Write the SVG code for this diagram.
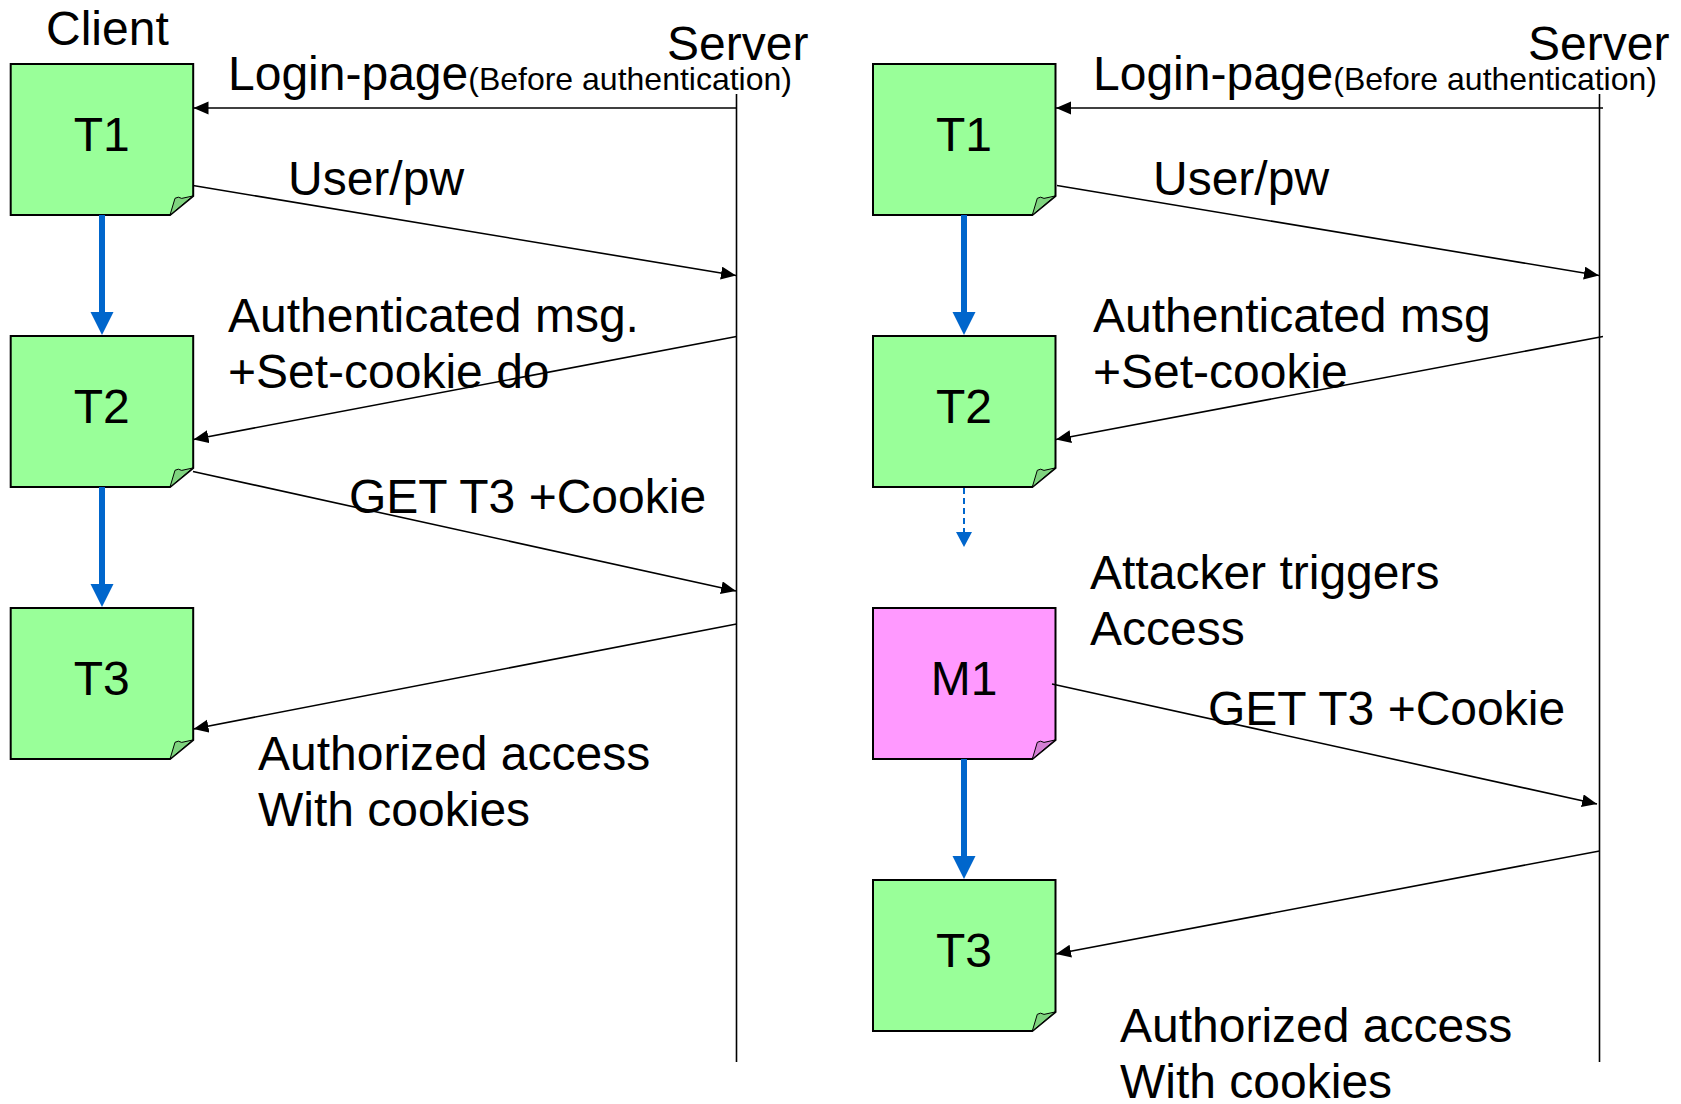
<svg xmlns="http://www.w3.org/2000/svg" width="1681" height="1104" viewBox="0 0 1681 1104">
  <style>
    text { font-family: "Liberation Sans", Arial, sans-serif; fill: #000; }
    .lbl { font-size: 48px; }
    .small { font-size: 32px; }
    .node-label { font-size: 48px; text-anchor: middle; }
    .page { stroke: #000; stroke-width: 2; stroke-linejoin: miter; }
    .green { fill: #99FF99; }
    .pink { fill: #FF99FF; }
    .fold { stroke: #000; stroke-width: 1; }
    .fold-green { fill: #7FD47F; }
    .fold-pink { fill: #D47FD4; }
    .msg { stroke: #000; stroke-width: 1.6; fill: none; marker-end: url(#arrow); }
    .life { stroke: #000; stroke-width: 1.6; }
    .flow { stroke: #0066CC; stroke-width: 6; }
    .flow-head { fill: #0066CC; }
    .flow-dash { stroke: #0066CC; stroke-width: 2; stroke-dasharray: 6 4; }
  </style>
  <defs>
    <marker id="arrow" markerUnits="userSpaceOnUse" markerWidth="16" markerHeight="14" refX="15" refY="6.5" orient="auto">
      <path d="M0,0 L15,6.5 L0,13 Z" fill="#000"/>
    </marker>
    <!-- sticky-note page with a folded bottom-right corner, 182 x 151 -->
    <path id="page-shape" d="M0,0 H182.5 V132 L159.3,151 H0 Z"/>
    <path id="page-fold" d="M159.3,151 L164.3,134.3 Q167.6,132 171,134.4 L182,132 Z"/>
  </defs>

  <!-- column headers -->
  <g id="headers">
    <text class="lbl" x="46" y="45">Client</text>
    <text class="lbl" x="667" y="60">Server</text>
    <text class="lbl" x="1528" y="60">Server</text>
  </g>

  <!-- server lifelines -->
  <g id="lifelines">
    <line class="life" x1="736.5" y1="94" x2="736.5" y2="1062"/>
    <line class="life" x1="1599.5" y1="94" x2="1599.5" y2="1062"/>
  </g>

  <!-- left sequence: legitimate client -->
  <g id="left-T1" transform="translate(10.7,64)">
    <use href="#page-shape" class="page green"/>
    <use href="#page-fold" class="fold fold-green"/>
    <text class="node-label" x="91" y="87">T1</text>
  </g>
  <g id="left-T2" transform="translate(10.7,336)">
    <use href="#page-shape" class="page green"/>
    <use href="#page-fold" class="fold fold-green"/>
    <text class="node-label" x="91" y="87">T2</text>
  </g>
  <g id="left-T3" transform="translate(10.7,608)">
    <use href="#page-shape" class="page green"/>
    <use href="#page-fold" class="fold fold-green"/>
    <text class="node-label" x="91" y="87">T3</text>
  </g>

  <!-- right sequence: attacker-triggered access -->
  <g id="right-T1" transform="translate(873,64)">
    <use href="#page-shape" class="page green"/>
    <use href="#page-fold" class="fold fold-green"/>
    <text class="node-label" x="91" y="87">T1</text>
  </g>
  <g id="right-T2" transform="translate(873,336)">
    <use href="#page-shape" class="page green"/>
    <use href="#page-fold" class="fold fold-green"/>
    <text class="node-label" x="91" y="87">T2</text>
  </g>
  <g id="right-M1" transform="translate(873,608)">
    <use href="#page-shape" class="page pink"/>
    <use href="#page-fold" class="fold fold-pink"/>
    <text class="node-label" x="91" y="87">M1</text>
  </g>
  <g id="right-T3" transform="translate(873,880)">
    <use href="#page-shape" class="page green"/>
    <use href="#page-fold" class="fold fold-green"/>
    <text class="node-label" x="91" y="87">T3</text>
  </g>

  <g id="connectors">
    <!-- page-to-page flow (blue) -->
    <line class="flow" x1="102" y1="215" x2="102" y2="313"/>
    <polygon class="flow-head" points="90.5,312 113.5,312 102,335"/>
    <line class="flow" x1="102" y1="487" x2="102" y2="585"/>
    <polygon class="flow-head" points="90.5,584 113.5,584 102,607"/>

    <line class="flow" x1="964" y1="215" x2="964" y2="313"/>
    <polygon class="flow-head" points="952.5,312 975.5,312 964,335"/>
    <line class="flow-dash" x1="964" y1="488" x2="964" y2="533"/>
    <polygon class="flow-head" points="956,532 972,532 964,547"/>
    <line class="flow" x1="964" y1="759" x2="964" y2="857"/>
    <polygon class="flow-head" points="952.5,856 975.5,856 964,879"/>

    <!-- messages, left -->
    <line class="msg" x1="736.5" y1="108" x2="193.5" y2="108"/>
    <line class="msg" x1="193" y1="185.5" x2="736" y2="275.5"/>
    <line class="msg" x1="736.5" y1="336.5" x2="193.5" y2="439.5"/>
    <line class="msg" x1="193" y1="471.5" x2="736" y2="591"/>
    <line class="msg" x1="736.5" y1="624" x2="193.5" y2="729"/>

    <!-- messages, right -->
    <line class="msg" x1="1603" y1="108" x2="1056" y2="108"/>
    <line class="msg" x1="1057" y1="185.5" x2="1599" y2="275.5"/>
    <line class="msg" x1="1603" y1="336.5" x2="1056" y2="439.5"/>
    <line class="msg" x1="1052" y1="684" x2="1597" y2="804"/>
    <line class="msg" x1="1599.5" y1="851" x2="1056" y2="954"/>
  </g>

  <!-- message labels -->
  <g id="labels">
    <text class="lbl" x="228" y="90">Login-page<tspan class="small">(Before authentication)</tspan></text>
    <text class="lbl" x="288" y="195">User/pw</text>
    <text class="lbl" x="228" y="332">Authenticated msg.</text>
    <text class="lbl" x="228" y="388">+Set-cookie do</text>
    <text class="lbl" x="349" y="513">GET T3 +Cookie</text>
    <text class="lbl" x="258" y="770">Authorized access</text>
    <text class="lbl" x="258" y="826">With cookies</text>

    <text class="lbl" x="1093" y="90">Login-page<tspan class="small">(Before authentication)</tspan></text>
    <text class="lbl" x="1153" y="195">User/pw</text>
    <text class="lbl" x="1093" y="332">Authenticated msg</text>
    <text class="lbl" x="1093" y="388">+Set-cookie</text>
    <text class="lbl" x="1090" y="589">Attacker triggers</text>
    <text class="lbl" x="1090" y="645">Access</text>
    <text class="lbl" x="1208" y="725">GET T3 +Cookie</text>
    <text class="lbl" x="1120" y="1042">Authorized access</text>
    <text class="lbl" x="1120" y="1098">With cookies</text>
  </g>
</svg>
